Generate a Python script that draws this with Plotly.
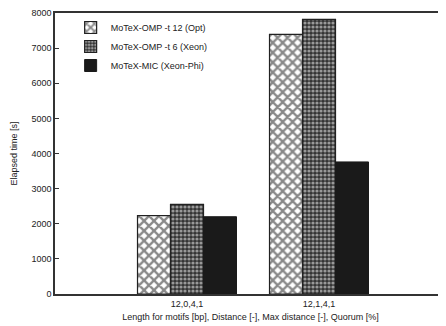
import plotly.graph_objects as go

categories = ["12,0,4,1", "12,1,4,1"]
series_names = ["MoTeX-OMP -t 12 (Opt)", "MoTeX-OMP -t 6 (Xeon)", "MoTeX-MIC (Xeon-Phi)"]
omp12 = [2230, 7390]
omp6 = [2550, 7820]
mic = [2200, 3760]
y_ticks = [0, 1000, 2000, 3000, 4000, 5000, 6000, 7000, 8000]

font = dict(family="Liberation Sans, Arial, sans-serif", size=9, color="#222")

fig = go.Figure()
fig.add_trace(go.Bar(
    name=series_names[0], x=categories, y=omp12,
    marker=dict(color="white", line=dict(color="#222", width=1.2),
                pattern=dict(shape="x", fgcolor="#111", bgcolor="white", size=7, solidity=0.55)),
))
fig.add_trace(go.Bar(
    name=series_names[1], x=categories, y=omp6,
    marker=dict(color="#222", line=dict(color="#222", width=1.2),
                pattern=dict(shape=".", fgcolor="white", bgcolor="#333", size=4, solidity=0.5)),
))
fig.add_trace(go.Bar(
    name=series_names[2], x=categories, y=mic,
    marker=dict(color="#1a1a1a", line=dict(color="#1a1a1a", width=1)),
))

# page has an 8px body margin, so the figure is 8px smaller in each direction
fig.update_layout(
    width=438, height=318,
    margin=dict(l=47, r=0, t=3, b=32),
    paper_bgcolor="white", plot_bgcolor="white",
    font=font,
    barmode="group", bargap=0.25, bargroupgap=0,
    showlegend=True,
    legend=dict(x=0.04, y=1.0, xanchor="left", yanchor="top",
                bgcolor="rgba(0,0,0,0)", font=dict(size=9),
                tracegroupgap=0, itemwidth=30),
)
fig.update_xaxes(
    type="category", range=[-1, 1.962],
    showline=True, linecolor="#333", linewidth=1.5, mirror=True,
    ticks="inside", ticklen=4, tickcolor="#333",
    showgrid=False, zeroline=False,
    title=dict(text="Length for motifs [bp], Distance [-], Max distance [-], Quorum [%]",
               font=dict(size=9), standoff=6),
)
fig.update_yaxes(
    range=[0, 8000], tickvals=y_ticks,
    showline=True, linecolor="#333", linewidth=1.5, mirror=False,
    ticks="inside", ticklen=4, tickcolor="#333",
    ticklabeloverflow="allow",
    showgrid=False, zeroline=False,
    title=dict(text="Elapsed time [s]", font=dict(size=9), standoff=12),
)

fig.write_html("out.html")
